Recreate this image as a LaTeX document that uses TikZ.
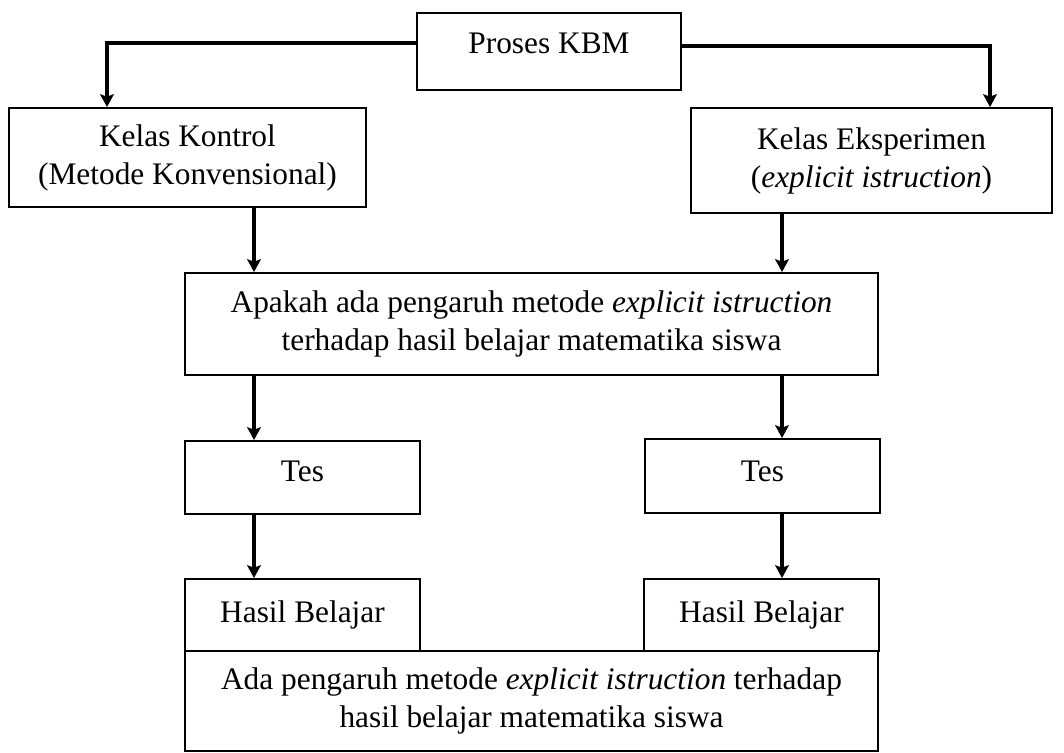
\documentclass[tikz,border=0pt]{standalone}
\usepackage{fontspec}
\setmainfont{Liberation Serif}
\usepackage{tikz}
\usetikzlibrary{arrows.meta, positioning, calc}

\begin{document}
\begin{tikzpicture}[
  x=0.025cm, y=-0.025cm,
  panah/.style={draw=black, line width=3pt, -{Stealth[length=0.32cm, width=0.34cm, inset=0.06cm]}},
  kotak/.style={draw=black, line width=1.3pt, fill=white, inner sep=0pt, align=center,
                font=\fontsize{22.3}{27}\selectfont},
]
  \useasboundingbox (0,0) rectangle (1064,752);

  % Proses KBM at the top
  \node[kotak, minimum width=6.6cm, text height=1cm, text depth=0.925cm] (proses) at (549,51.5) {Proses KBM};

  % The two classes
  \node[kotak, minimum width=8.925cm, minimum height=2.475cm] (kontrol) at (187.5,157.5) {Kelas Kontrol\\(Metode Konvensional)};
  \node[kotak, minimum width=9.025cm, minimum height=2.625cm] (eksperimen) at (871.5,160.5) {Kelas Eksperimen\\(\textit{explicit istruction})};

  % Research question
  \node[kotak, minimum width=17.325cm, minimum height=2.55cm] (tanya) at (531.5,324) {Apakah ada pengaruh metode \textit{explicit istruction}\\terhadap hasil belajar matematika siswa};

  % Tests
  \node[kotak, minimum width=5.875cm, text height=1cm, text depth=0.825cm] (tesKiri) at (302.5,477.5) {Tes};
  \node[kotak, minimum width=5.875cm, text height=1.05cm, text depth=0.8cm] (tesKanan) at (762.5,476) {Tes};

  % Results
  \node[kotak, minimum width=5.875cm, minimum height=1.8cm] (hasilKiri) at (302.5,615) {Hasil Belajar};
  \node[kotak, minimum width=5.875cm, minimum height=1.8cm] (hasilKanan) at (761.5,615) {Hasil Belajar};

  % Conclusion
  \node[kotak, minimum width=17.325cm, minimum height=2.5cm] (simpulan) at (531.5,701) {Ada pengaruh metode \textit{explicit istruction} terhadap\\hasil belajar matematika siswa};

  % Bends and lanes of the arrows
  \coordinate (belokKiri) at (107,43);
  \coordinate (belokKanan) at (990,46);
  \coordinate (jalurKiri) at (254,0);
  \coordinate (jalurKanan) at (782,0);

  % Proses -> classes
  \draw[panah] (proses.west |- belokKiri) -| (belokKiri |- kontrol.north);
  \draw[panah] (proses.east |- belokKanan) -| (belokKanan |- eksperimen.north);

  % Classes -> question
  \draw[panah] (jalurKiri |- kontrol.south) -- (jalurKiri |- tanya.north);
  \draw[panah] (jalurKanan |- eksperimen.south) -- (jalurKanan |- tanya.north);

  % Question -> tests -> results
  \draw[panah] (jalurKiri |- tanya.south) -- (jalurKiri |- tesKiri.north);
  \draw[panah] (jalurKanan |- tanya.south) -- (jalurKanan |- tesKanan.north);
  \draw[panah] (jalurKiri |- tesKiri.south) -- (jalurKiri |- hasilKiri.north);
  \draw[panah] (jalurKanan |- tesKanan.south) -- (jalurKanan |- hasilKanan.north);
\end{tikzpicture}
\end{document}
